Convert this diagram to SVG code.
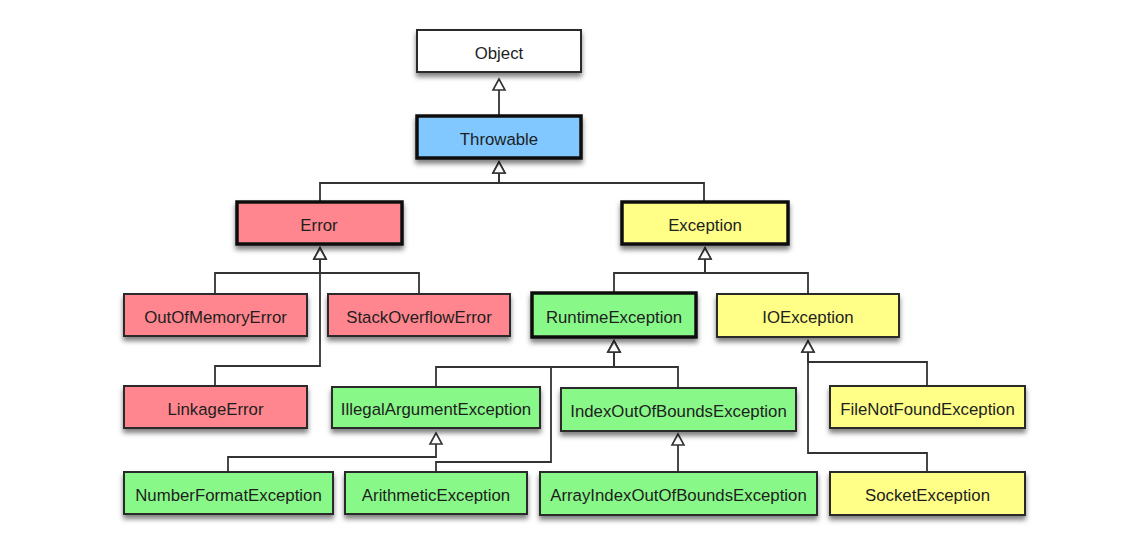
<svg xmlns="http://www.w3.org/2000/svg" width="1126" height="545" viewBox="0 0 1126 545">
<style>
.box{stroke:#2a2a2a;stroke-width:2;filter:url(#sh)}
.thick{stroke:#111;stroke-width:3.5}
.white{fill:#ffffff}
.blue{fill:#80c8ff}
.pink{fill:#ff868e}
.yellow{fill:#ffff88}
.green{fill:#88f888}
text{font-family:"Liberation Sans",Arial,Helvetica,sans-serif;font-size:16.8px;fill:#1e1e1e;text-anchor:middle}
.conn path{fill:none;stroke:#333;stroke-width:1.8;marker-end:url(#tri)}
</style>
<defs>
<filter id="sh" x="-10%" y="-20%" width="120%" height="160%">
<feDropShadow dx="0" dy="4" stdDeviation="2.5" flood-color="#000" flood-opacity="0.5"/>
</filter>
<marker id="tri" markerUnits="userSpaceOnUse" viewBox="-2 -2 16 16" markerWidth="16" markerHeight="16" refX="11" refY="6" orient="auto">
<path d="M0,0 L11,6 L0,12 Z" fill="#fff" stroke="#333" stroke-width="1.6" stroke-linejoin="miter"/>
</marker>
</defs>
<rect width="1126" height="545" fill="#fff"/>
<g id="connectors" class="conn">
<path d="M499 116 V79"/>
<path d="M320 202 V183 H499 V162"/>
<path d="M704 202 V183 H499 V162"/>
<path d="M215 294 V273 H320 V248"/>
<path d="M419 294 V273 H320 V248"/>
<path d="M215 386 V366 H320 V248"/>
<path d="M614 293 V273 H705 V248"/>
<path d="M808 293 V273 H705 V248"/>
<path d="M436 387 V367 H614 V341"/>
<path d="M678 388 V367 H614 V341"/>
<path d="M436 472 V462 H551 V367 H614 V341"/>
<path d="M228 472 V457 H436 V433"/>
<path d="M678 472 V434"/>
<path d="M927 386 V362 H808 V341"/>
<path d="M927 472 V453 H808 V341"/>
</g>
<g id="Object"><rect class="box white" x="417" y="30" width="164" height="42"/><text x="499" y="58.5">Object</text></g>
<g id="Throwable"><rect class="box thick blue" x="417" y="116" width="164" height="42"/><text x="499" y="144.5">Throwable</text></g>
<g id="Error"><rect class="box thick pink" x="237" y="202" width="165" height="42"/><text x="319" y="230.5">Error</text></g>
<g id="Exception"><rect class="box thick yellow" x="622" y="202" width="166" height="42"/><text x="705" y="230.5">Exception</text></g>
<g id="OutOfMemoryError"><rect class="box pink" x="124" y="294" width="183" height="42"/><text x="215.5" y="322.5">OutOfMemoryError</text></g>
<g id="StackOverflowError"><rect class="box pink" x="328" y="294" width="182" height="42"/><text x="419" y="322.5">StackOverflowError</text></g>
<g id="RuntimeException"><rect class="box thick green" x="532" y="293" width="164" height="44"/><text x="614" y="322.5">RuntimeException</text></g>
<g id="IOException"><rect class="box yellow" x="717" y="294" width="182" height="43"/><text x="808" y="322.5">IOException</text></g>
<g id="LinkageError"><rect class="box pink" x="124" y="386" width="183" height="42"/><text x="215.5" y="414.5">LinkageError</text></g>
<g id="IllegalArgumentException"><rect class="box green" x="332" y="387" width="208" height="41"/><text x="436" y="415">IllegalArgumentException</text></g>
<g id="IndexOutOfBoundsException"><rect class="box green" x="561" y="388" width="235" height="43"/><text x="678.5" y="417">IndexOutOfBoundsException</text></g>
<g id="FileNotFoundException"><rect class="box yellow" x="830" y="386" width="195" height="42"/><text x="927.5" y="415">FileNotFoundException</text></g>
<g id="NumberFormatException"><rect class="box green" x="124" y="472" width="209" height="42"/><text x="228.5" y="501">NumberFormatException</text></g>
<g id="ArithmeticException"><rect class="box green" x="345" y="472" width="182" height="42"/><text x="436" y="501">ArithmeticException</text></g>
<g id="ArrayIndexOutOfBoundsException"><rect class="box green" x="540" y="472" width="277" height="43"/><text x="678.5" y="501">ArrayIndexOutOfBoundsException</text></g>
<g id="SocketException"><rect class="box yellow" x="830" y="472" width="195" height="43"/><text x="927.5" y="501">SocketException</text></g>
</svg>
